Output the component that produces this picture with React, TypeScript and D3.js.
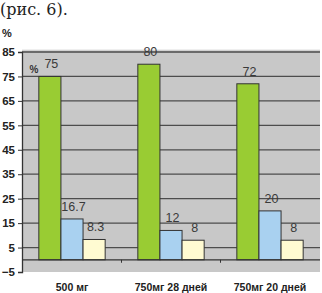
import React, { useRef, useEffect } from "react";
import * as d3 from "d3";

const categories = ["500 мг", "750мг 28 дней", "750мг 20 дней"];
const seriesA = [75, 80, 72];
const seriesB = [16.7, 12, 20];
const seriesC = [8.3, 8, 8];
const seriesLabels = [["75", "80", "72"], ["16.7", "12", "20"], ["8.3", "8", "8"]];
const yTicks = [85, 75, 65, 55, 45, 35, 25, 15, 5, -5];

const App = () => {
  const ref = useRef<SVGSVGElement>(null);
  const W = 322;
  const H = 293;

  useEffect(() => {
    const svg = d3.select(ref.current);
    svg.selectChildren().remove();

    const x0 = d3.scaleBand().domain(categories).range([22, 320]).paddingInner(0.33).paddingOuter(0.17);
    const series = ["a", "b", "c"];
    const x1 = d3.scaleBand().domain(series).range([0, x0.bandwidth()]);
    const y = d3.scaleLinear().domain([-5, 85]).range([272, 52]);
    const colors = ["#99cc33", "#a9d1f0", "#fffbd2"];
    const data = [seriesA, seriesB, seriesC];
    const sans = "'Liberation Sans', Arial, sans-serif";

    // caption
    svg.append("text").attr("x", 0).attr("y", 15)
      .style("font-family", "'DejaVu Serif', serif").style("font-size", "16px").attr("fill", "#222")
      .text("(рис. 6).");

    // plot background
    svg.append("rect").attr("x", 22).attr("y", 50).attr("width", 298).attr("height", 222)
      .attr("fill", "#c8c8c8");
    svg.append("line").attr("x1", 22).attr("x2", 320).attr("y1", 50).attr("y2", 50)
      .attr("stroke", "#dedede").attr("stroke-width", 1);

    // grid
    svg.append("g").selectAll("line").data(yTicks.filter(t => t > -5)).join("line")
      .attr("x1", 22).attr("x2", 320).attr("y1", d => y(d)).attr("y2", d => y(d))
      .attr("stroke", "#4d4d4d").attr("stroke-width", 1.3);

    // y axis
    const yAxis = d3.axisLeft(y).tickValues(yTicks).tickSize(4).tickFormat(d3.format("d"));
    const ga = svg.append("g").attr("transform", "translate(22,0)").call(yAxis);
    ga.select(".domain").attr("stroke", "#333").attr("stroke-width", 1.3);
    ga.selectAll(".tick line").attr("stroke", "#333");
    ga.selectAll(".tick text").attr("x", -7).attr("fill", "#222")
      .style("font-family", sans).style("font-size", "11.5px").style("font-weight", "bold");

    svg.append("text").attr("x", 2).attr("y", 37)
      .style("font-family", sans).style("font-size", "11px").style("font-weight", "bold")
      .attr("fill", "#222").text("%");

    // bars
    const g = svg.append("g");
    data.forEach((vals, si) => {
      g.selectAll(null).data(vals).join("rect")
        .attr("x", (d, i) => (x0(categories[i]) as number) + (x1(series[si]) as number))
        .attr("y", d => y(d))
        .attr("width", x1.bandwidth())
        .attr("height", d => y(0) - y(d))
        .attr("fill", colors[si])
        .attr("stroke", "#333").attr("stroke-width", 1);
      g.selectAll(null).data(vals).join("text")
        .attr("x", (d, i) => (x0(categories[i]) as number) + (x1(series[si]) as number) + x1.bandwidth() / 2 + 1.5)
        .attr("y", d => y(d) - 8)
        .attr("text-anchor", "middle")
        .style("font-family", sans).style("font-size", "12.5px")
        .attr("fill", "#3a3a3a")
        .text((d, i) => seriesLabels[si][i]);
    });

    svg.append("text").attr("x", 34).attr("y", 73).attr("text-anchor", "middle")
      .style("font-family", sans).style("font-size", "10px").style("font-weight", "bold")
      .attr("fill", "#333").text("%");

    // x axis at zero
    svg.append("line").attr("x1", 22).attr("x2", 320).attr("y1", y(0)).attr("y2", y(0))
      .attr("stroke", "#333").attr("stroke-width", 1.3);
    svg.append("g").selectAll("line").data(categories.slice(1)).join("line")
      .attr("x1", d => (x0(d) as number) - x0.step() * 0.33 / 2)
      .attr("x2", d => (x0(d) as number) - x0.step() * 0.33 / 2)
      .attr("y1", y(0)).attr("y2", y(0) + 3)
      .attr("stroke", "#333");

    svg.append("g").selectAll("text").data(categories).join("text")
      .attr("x", d => (x0(d) as number) + x0.bandwidth() / 2)
      .attr("y", 291)
      .attr("text-anchor", "middle")
      .style("font-family", sans).style("font-size", "10.5px").style("font-weight", "bold")
      .attr("fill", "#222")
      .text(d => d);
  });

  return (
    <svg ref={ref} width={W} height={H} style={{ position: "absolute", left: 0, top: 0, background: "#fff" }}></svg>
  );
};

export default App;
